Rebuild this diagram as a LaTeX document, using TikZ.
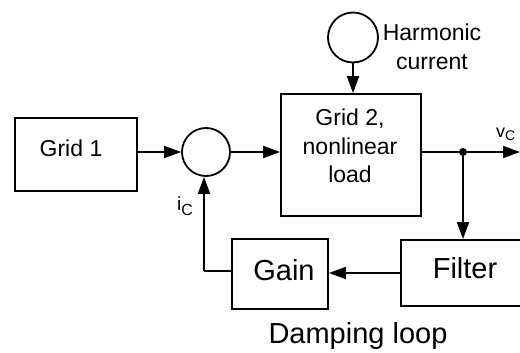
\documentclass[tikz,border=0pt]{standalone}
\usepackage{fontspec}
\setmainfont{Liberation Sans}
\usetikzlibrary{arrows.meta}
\tikzset{
  blk/.style={draw,rectangle,line width=1.8pt,inner sep=0pt},
  sumc/.style={draw,circle,line width=1.8pt,inner sep=0pt},
  conn/.style={line width=1.8pt,-{Triangle[length=17pt,width=12pt]}},
  plain/.style={line width=1.8pt},
  smalltxt/.style={font=\fontsize{23}{28.5}\selectfont,inner sep=0pt,align=center},
  bigtxt/.style={font=\fontsize{29}{34}\selectfont,inner sep=0pt},
}
\begin{document}
\begin{tikzpicture}[x=1pt,y=-1pt]
\useasboundingbox (0,0) rectangle (520,353);
\clip (0,0) rectangle (520,353);
% blocks
\node[blk,minimum width=122pt,minimum height=73pt] (g1) at (76,154.5) {};
\node[blk,minimum width=140pt,minimum height=122pt] (g2) at (351,155) {};
\node[blk,minimum width=128pt,minimum height=66pt] (flt) at (465,273) {};
\node[blk,minimum width=96pt,minimum height=70pt] (gain) at (280,274) {};
\node[sumc,minimum size=48pt] (sum) at (206,152) {};
\node[sumc,minimum size=50pt] (hc) at (353,37.5) {};
% texts
\node[smalltxt,anchor=base] (t1) at (71,157) {Grid 1};
\node[smalltxt] (t2) at (350,146) {Grid 2,\\nonlinear\\load};
\node[smalltxt] (th) at (432,47) {Harmonic\\current};
\node[bigtxt,anchor=base] (tg) at (284,280) {Gain};
\node[bigtxt,anchor=base] (tf) at (465,278) {Filter};
\node[bigtxt,anchor=base] (td) at (358,343) {Damping loop};
\node[inner sep=0pt,anchor=base west] (vc) at (496,137) {\fontsize{18}{18}\selectfont v\raisebox{-3pt}{\fontsize{14}{14}\selectfont C}};
\node[inner sep=0pt,anchor=base west] (ic) at (177,210) {\fontsize{19}{19}\selectfont i\raisebox{-5pt}{\fontsize{16}{16}\selectfont C}};
% connectors
\coordinate (dot) at (463,152);
\coordinate (out) at (520,152);
\coordinate (fb) at (204,271);
\draw[conn] (g1.east |- 0,152) -- (sum.west |- 0,152);
\draw[conn] (sum.east |- 0,152) -- (g2.west |- 0,152);
\draw[conn] (hc.south) -- (g2.north -| hc.south);
\draw[plain] (g2.east |- dot) -- (dot);
\draw[conn] (dot) -- (out);
\fill (dot) circle (4pt);
\draw[conn] (dot) -- (flt.north -| dot);
\draw[conn] (flt.west |- 0,273) -- (gain.east |- 0,273);
\draw[plain] (gain.west |- fb) -- (fb);
\draw[conn] (fb) -- (fb |- sum.south);
\end{tikzpicture}
\end{document}
